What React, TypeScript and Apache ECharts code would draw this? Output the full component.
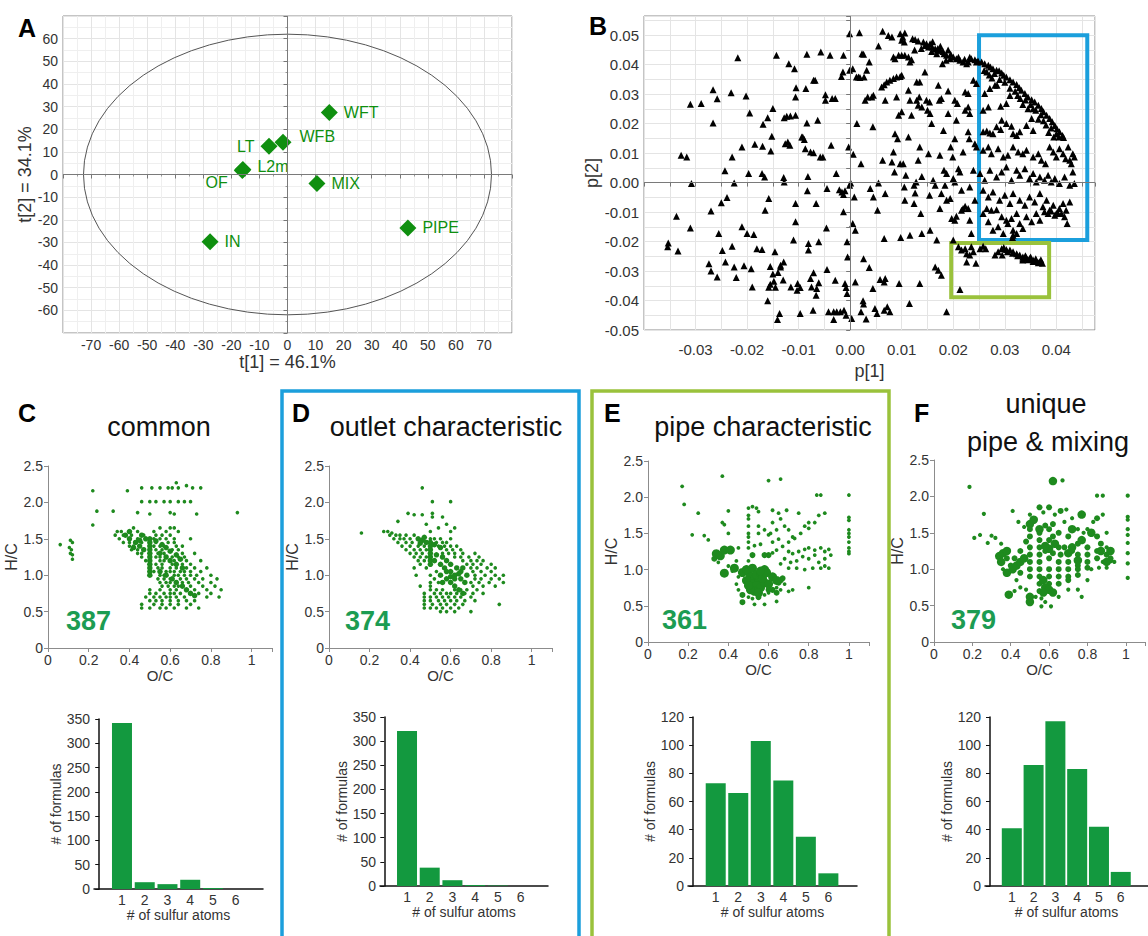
import React, { useEffect, useRef } from "react";
import * as echarts from "echarts";

const FONT = '"Liberation Sans", Arial, Helvetica, sans-serif';
const NARROW = '"Liberation Sans Narrow", "Liberation Sans", Arial, sans-serif';

const GREEN_DOT = "#1e8a1e";
const GREEN_MARK = "#0f8f0f";
const GREEN_BAR = "#13993f";
const GREEN_COUNT = "#1c9c52";
const BLUE_BOX = "#1b9fdc";
const LIME_BOX = "#9ac23c";

// ---- Panel A: PCA scores ----
const sampleNames = ["WFT", "WFB", "LT", "L2m", "OF", "MIX", "PIPE", "IN"];
const scoreT1 = [14.9, -1.6, -6.6, -15.9, -16.1, 10.5, 42.9, -27.6];
const scoreT2 = [27.4, 14.2, 12.5, 2.2, 1.8, -4.0, -23.6, -29.7];
const labelSide = ["right", "right", "left", "right", "left", "right", "right", "right"];
const ellipseT1 = 72.7;
const ellipseT2 = 62;

// ---- Panel B: PCA loadings ----
const loadings: number[][] = [
  [-0.0354, -0.0218], [-0.0353, -0.0205], [-0.0334, -0.0232], [-0.0328, 0.0093], [-0.0317, 0.0087],
  [-0.0337, -0.0114], [-0.031, 0.0266], [-0.0289, 0.0268], [-0.0308, -0.0003], [-0.031, -0.0154],
  [-0.0266, 0.0315], [-0.0258, 0.0284], [-0.0266, 0.0202], [-0.027, -0.0096], [-0.0274, -0.0275],
  [-0.027, -0.03], [-0.0258, -0.032], [-0.0255, -0.0173], [-0.0248, -0.023], [-0.0242, -0.0269],
  [-0.0243, 0.004], [-0.025, -0.0068], [-0.0239, -0.0051], [-0.0231, 0.0305], [-0.0229, 0.0087],
  [-0.0229, -0.0216], [-0.0225, -0.0286], [-0.0221, -0.0322], [-0.0218, 0.0423], [-0.0225, -0.0001],
  [-0.021, 0.0121], [-0.021, -0.015], [-0.0206, -0.0282], [-0.0202, 0.0294], [-0.02, -0.0173],
  [-0.0187, -0.0176], [-0.0197, 0.0031], [-0.0195, 0.0236], [-0.0192, -0.0292], [-0.019, -0.0354],
  [-0.0185, 0.013], [-0.0181, -0.0224], [-0.0171, -0.0227], [-0.0171, 0.0031], [-0.0166, 0.0019],
  [-0.017, 0.0123], [-0.0169, 0.0198], [-0.0165, -0.0094], [-0.0158, -0.0054], [-0.016, 0.022],
  [-0.016, -0.0401], [-0.0152, 0.0157], [-0.0154, 0.0107], [-0.015, 0.0251], [-0.0143, 0.0432],
  [-0.0146, -0.0235], [-0.0155, -0.0285], [-0.015, -0.031], [-0.0148, -0.0335], [-0.0155, -0.0345],
  [-0.0145, -0.0355], [-0.014, -0.0305], [-0.0135, -0.028], [-0.0158, -0.0355], [-0.013, -0.033],
  [-0.0141, -0.0464], [-0.0137, -0.0444], [-0.0135, -0.0286], [-0.0129, -0.0269], [-0.0129, 0.0017],
  [-0.0128, 0.0002], [-0.0128, 0.022], [-0.0123, 0.0225], [-0.0116, 0.0226], [-0.0106, 0.0228],
  [-0.0126, 0.0132], [-0.0121, 0.0138], [-0.0117, 0.0127], [-0.0119, 0.0403], [-0.0108, 0.0386],
  [-0.0115, -0.0354], [-0.0103, -0.0365], [-0.011, -0.0195], [-0.0106, 0.029], [-0.0105, 0.0322],
  [-0.0106, -0.0133], [-0.0106, -0.0071], [-0.0102, -0.0342], [-0.0097, -0.0356], [-0.0097, -0.0444],
  [-0.0094, 0.0155], [-0.0089, 0.0146], [-0.0087, 0.0115], [-0.0077, 0.0104], [-0.0092, 0.0155],
  [-0.0086, 0.0319], [-0.0084, 0.0202], [-0.0082, 0.0021], [-0.0083, -0.0028], [-0.0081, -0.0229],
  [-0.0081, -0.0207], [-0.0077, -0.0325], [-0.0075, -0.0354], [-0.0071, -0.0306], [-0.0084, 0.0435],
  [-0.0071, 0.0347], [-0.0068, 0.0347], [-0.0071, 0.0101], [-0.0063, 0.0211], [-0.0065, -0.0359],
  [-0.0061, -0.034], [-0.0066, -0.0382], [-0.0072, -0.0433], [-0.0066, -0.0071], [-0.0061, -0.0201],
  [-0.0058, 0.0087], [-0.0053, 0.0087], [-0.0057, 0.0443], [-0.0048, 0.0298], [-0.0048, 0.0279],
  [-0.0046, -0.0154], [-0.0045, -0.002], [-0.0045, -0.0295], [-0.0042, -0.0438], [-0.0032, -0.0438],
  [-0.0026, -0.0438], [-0.0039, 0.0432], [-0.0037, 0.0127], [-0.0035, 0.0285], [-0.0029, 0.0285],
  [-0.0032, -0.0464], [-0.0029, -0.0331], [-0.0027, 0.0031], [-0.0021, -0.0024], [-0.0016, -0.0032],
  [-0.0013, -0.004], [-0.001, -0.0028], [-0.0019, -0.0438], [-0.0012, -0.0433], [-0.0008, -0.045],
  [-0.0017, 0.036], [-0.0014, 0.0375], [-0.0013, -0.0099], [-0.0013, 0.0432], [-0.001, -0.0342],
  [-0.0006, -0.0376], [-0.0008, -0.0356], [-0.0006, -0.0201], [-0.0005, -0.0252], [-0.0003, 0.0121],
  [-0.0001, -0.0009], [0.0001, -0.0001], [-0.0001, 0.0381], [0.0005, 0.0386], [-0.0001, 0.0505],
  [0.0003, -0.0461], [0.0005, -0.0139], [0.0006, 0.0096], [0.0008, -0.0049], [0.001, -0.0162],
  [0.001, -0.0337], [0.0012, 0.0358], [0.0016, 0.0358], [0.0019, 0.0356], [0.0013, 0.02],
  [0.0018, 0.0508], [0.0021, 0.0064], [0.0023, 0.0437], [0.0026, 0.0435], [0.0021, -0.0438],
  [0.0025, -0.0401], [0.0026, -0.0412], [0.0026, -0.0258], [0.0029, 0.0279], [0.0034, 0.029],
  [0.0027, 0.0358], [0.0031, -0.0463], [0.0032, 0.0381], [0.0037, 0.0409], [0.0037, -0.0288],
  [0.0039, -0.002], [0.0044, 0.0189], [0.0042, 0.029], [0.0045, 0.0296], [0.0044, -0.0359],
  [0.0045, -0.0049], [0.0048, -0.0427], [0.0052, -0.0444], [0.0053, -0.0094], [0.0055, 0.0463],
  [0.0055, -0.0001], [0.0058, -0.0329], [0.0061, 0.0324], [0.0066, 0.0332], [0.0071, 0.0341],
  [0.0077, 0.0347], [0.0084, 0.0353], [0.009, 0.0358], [0.0097, 0.036], [0.01, 0.0364],
  [0.0063, 0.0076], [0.0063, 0.0513], [0.0074, 0.0499], [0.0081, 0.0494], [0.0068, 0.0279],
  [0.0068, -0.0037], [0.0066, -0.019], [0.0066, -0.0337], [0.0068, -0.0325], [0.0066, -0.0433],
  [0.0072, -0.0421], [0.0077, -0.0438], [0.0081, 0.007], [0.0084, 0.0426], [0.0087, 0.042],
  [0.0094, 0.0432], [0.01, 0.0432], [0.0084, 0.0104], [0.0086, 0.0036], [0.0087, 0.0166],
  [0.0092, 0.0149], [0.009, 0.029], [0.0094, 0.0228], [0.01, 0.024], [0.0097, 0.0505],
  [0.0102, 0.0494], [0.0106, 0.0507], [0.0097, 0.0064], [0.0103, 0.0064], [0.0095, -0.0342],
  [0.0098, -0.0186], [0.01, 0.0483], [0.0105, 0.0477], [0.0106, 0.0432], [0.0113, 0.0426],
  [0.0105, -0.0015], [0.0108, 0.0025], [0.0106, -0.006], [0.0113, 0.0313], [0.0116, 0.0279],
  [0.0113, 0.0155], [0.0116, -0.0179], [0.0115, -0.041], [0.0116, 0.0409], [0.0119, 0.0417],
  [0.0119, 0.0228], [0.0121, 0.0488], [0.0126, 0.0485], [0.0132, 0.048], [0.0124, -0.0071],
  [0.0126, -0.0035], [0.0124, -0.0009], [0.0128, 0.0002], [0.0129, 0.0341], [0.0135, 0.0341],
  [0.0129, 0.0279], [0.0134, 0.029], [0.0132, 0.0262], [0.0139, 0.0256], [0.0135, 0.0121],
  [0.0132, 0.0076], [0.0139, 0.0021], [0.0137, -0.0105], [0.0139, -0.0173], [0.0135, -0.0342],
  [0.0142, 0.0477], [0.0148, 0.0471], [0.0155, 0.0471], [0.0152, 0.046], [0.0145, 0.0375],
  [0.0148, 0.0279], [0.0154, 0.0273], [0.015, 0.0245], [0.0155, 0.0234], [0.0152, 0.0098],
  [0.0154, -0.0043], [0.0155, -0.0162], [0.0158, 0.02], [0.0159, 0.046], [0.0165, 0.0454],
  [0.0169, 0.0449], [0.0168, 0.0437], [0.0161, 0.0008], [0.0165, -0.0009], [0.0165, -0.0286],
  [0.0171, -0.0297], [0.0177, -0.0314], [0.0168, -0.0195], [0.0171, 0.033], [0.0173, 0.0279],
  [0.0177, 0.0285], [0.0174, 0.0093], [0.0174, -0.0088], [0.0175, 0.0449], [0.0182, 0.0437],
  [0.0187, 0.0432], [0.0179, 0.0403], [0.0186, 0.0415], [0.0181, 0.0177], [0.0182, 0.0042],
  [0.0187, 0.0031], [0.0184, -0.0009], [0.0177, -0.0037], [0.0187, -0.0438], [0.0187, -0.006],
  [0.0194, -0.0054], [0.019, 0.0311], [0.019, 0.0234], [0.0194, 0.042], [0.02, 0.0426],
  [0.0206, 0.042], [0.0195, 0.0121], [0.0197, -0.0122], [0.0203, -0.0128], [0.0206, -0.0114],
  [0.0199, 0.0087], [0.02, 0.0014], [0.0203, 0.0002], [0.02, -0.0195], [0.0203, 0.0279],
  [0.0208, 0.0268], [0.0206, 0.0211], [0.0203, 0.0149], [0.021, 0.0047], [0.0213, 0.0036],
  [0.0213, 0.0415], [0.0219, 0.0409], [0.0226, 0.0403], [0.0229, 0.0409], [0.0213, -0.0363],
  [0.021, -0.0218], [0.0216, -0.0229], [0.0223, -0.0224], [0.0226, -0.0241], [0.0232, -0.0246],
  [0.0239, -0.0235], [0.0235, -0.0218], [0.0244, -0.0274], [0.0226, -0.0269], [0.0216, -0.0094],
  [0.0219, -0.0088], [0.0223, -0.008], [0.0229, -0.0088], [0.0216, -0.0026], [0.0219, 0.0104],
  [0.0223, 0.0245], [0.0229, 0.0256], [0.0232, 0.0234], [0.0223, 0.0307], [0.0229, 0.0302],
  [0.0229, 0.0172], [0.0231, 0.0149], [0.0232, -0.0015], [0.0232, -0.0128], [0.0235, -0.0173],
  [0.0239, 0.0347], [0.0245, 0.0336], [0.0239, 0.0042], [0.0242, -0.006], [0.0235, 0.042],
  [0.0242, 0.0417], [0.0245, 0.0409], [0.0248, 0.0412], [0.0242, 0.0132], [0.0245, 0.0121],
  [0.0252, -0.0224], [0.0258, -0.0216], [0.0263, -0.0224],
  [0.0145, 0.0465], [0.0158, 0.0445], [0.017, 0.0455], [0.018, 0.0445], [0.0195, 0.0435],
  [0.021, 0.0425], [0.0222, 0.0418], [0.0232, 0.0425], [0.0125, 0.045], [0.0138, 0.0455],
  [0.016, 0.0478], [0.0175, 0.0462], [0.019, 0.045],
  [0.0255, 0.0409], [0.0261, 0.0403], [0.0268, 0.0398], [0.0272, 0.0392], [0.0277, 0.0386],
  [0.0284, 0.0381], [0.0289, 0.0379], [0.0294, 0.0372], [0.0298, 0.0364], [0.0303, 0.0358],
  [0.031, 0.0349], [0.0316, 0.0341], [0.0323, 0.0333], [0.0328, 0.0322], [0.0332, 0.0313],
  [0.0339, 0.0302], [0.0345, 0.029], [0.0352, 0.0281], [0.0358, 0.0273], [0.0365, 0.0262],
  [0.0371, 0.0251], [0.0375, 0.024], [0.0381, 0.0228], [0.0387, 0.0217], [0.0392, 0.0206],
  [0.0397, 0.0194], [0.0401, 0.0183], [0.0406, 0.0172], [0.0412, 0.016], [0.0414, 0.0153],
  [0.026, 0.038], [0.027, 0.0365], [0.028, 0.037], [0.029, 0.035], [0.03, 0.034],
  [0.031, 0.032], [0.032, 0.031], [0.0325, 0.0295], [0.033, 0.0285], [0.034, 0.028],
  [0.035, 0.0265], [0.0355, 0.025], [0.036, 0.0245], [0.037, 0.023], [0.0375, 0.021],
  [0.038, 0.0195], [0.039, 0.0185], [0.04, 0.0165], [0.0405, 0.0155], [0.0395, 0.0155],
  [0.0385, 0.017], [0.0365, 0.0215], [0.0345, 0.025], [0.0335, 0.0265], [0.031, 0.0295],
  [0.0285, 0.033], [0.0275, 0.0355], [0.0265, 0.0375],
  [0.0261, 0.0302], [0.0271, 0.0319], [0.0281, 0.033], [0.0258, 0.0245], [0.0268, 0.0256],
  [0.0292, 0.0259], [0.0303, 0.0268], [0.0294, 0.0211], [0.0303, 0.02], [0.0313, 0.0191],
  [0.0258, 0.0172], [0.0265, 0.0175], [0.0271, 0.0168], [0.0277, 0.0166], [0.0284, 0.0189],
  [0.0292, 0.018], [0.0316, 0.0166], [0.0323, 0.016], [0.0329, 0.0172], [0.0342, 0.0194],
  [0.0352, 0.0217], [0.0355, 0.0177], [0.0258, 0.011], [0.0268, 0.0121], [0.0274, 0.0098],
  [0.0287, 0.0115], [0.0297, 0.0087], [0.0306, 0.0093], [0.0316, 0.0121], [0.0326, 0.0104],
  [0.0335, 0.0098], [0.0342, 0.011], [0.0355, 0.0087], [0.0365, 0.0098], [0.0371, 0.0076],
  [0.0379, 0.0064], [0.0387, 0.0121], [0.0394, 0.0104], [0.04, 0.0087], [0.0406, 0.0115],
  [0.0413, 0.0098], [0.0418, 0.0081], [0.0423, 0.0121], [0.0426, 0.0076], [0.0432, 0.0098],
  [0.0435, 0.0087], [0.0429, 0.0064], [0.0432, 0.0036], [0.0252, 0.0031], [0.0261, 0.0008],
  [0.0271, 0.0042], [0.0284, 0.0019], [0.0294, 0.0036], [0.0303, 0.0053], [0.0313, 0.0008],
  [0.0323, 0.0042], [0.0329, 0.0025], [0.0339, 0.0047], [0.0348, 0.0014], [0.0355, 0.0031],
  [0.0361, 0.0002], [0.0368, 0.0019], [0.0377, 0.0008], [0.0384, 0.0025], [0.039, 0.0002],
  [0.0397, 0.0014], [0.0406, -0.0003], [0.0416, 0.0019], [0.0426, -0.0009], [0.0435, -0.0003],
  [0.0258, -0.0026], [0.0268, -0.0049], [0.0277, -0.0032], [0.029, -0.006], [0.03, -0.0043],
  [0.031, -0.0071], [0.0316, -0.0037], [0.0329, -0.006], [0.0339, -0.0077], [0.0348, -0.0049],
  [0.0358, -0.0066], [0.0368, -0.0037], [0.0374, -0.0082], [0.0381, -0.006], [0.0387, -0.0094],
  [0.0394, -0.0077], [0.04, -0.0105], [0.0406, -0.0088], [0.0413, -0.0071], [0.0419, -0.0094],
  [0.0426, -0.0066], [0.0377, -0.0099], [0.0384, -0.0105], [0.039, -0.0096], [0.0397, -0.0111],
  [0.0403, -0.0103], [0.041, -0.0105], [0.0416, -0.0116], [0.0421, -0.0139], [0.0258, -0.0105],
  [0.0265, -0.0088], [0.0274, -0.0094], [0.0284, -0.0092], [0.0294, -0.0116], [0.0303, -0.0128],
  [0.0313, -0.0122], [0.0323, -0.0105], [0.0329, -0.0139], [0.0335, -0.0156], [0.0342, -0.0116],
  [0.0352, -0.0133], [0.0361, -0.0105], [0.0368, -0.0128], [0.0268, -0.0133], [0.0277, -0.0162],
  [0.0287, -0.015], [0.0297, -0.0173], [0.0306, -0.0139], [0.0316, -0.0162], [0.0323, -0.0173],
  [0.0316, -0.0179], [0.0315, -0.0186],
  [0.0294, -0.0224], [0.0298, -0.022], [0.0303, -0.0227], [0.031, -0.0229], [0.0316, -0.0235],
  [0.0323, -0.0241], [0.0329, -0.0246], [0.0335, -0.0252], [0.0342, -0.0255], [0.0348, -0.0258],
  [0.0355, -0.0263], [0.0361, -0.0265], [0.0368, -0.0269], [0.0373, -0.0274], [0.0305, -0.0235],
  [0.0315, -0.024], [0.0325, -0.0248], [0.0335, -0.0258], [0.0345, -0.0262], [0.0355, -0.0268],
  [0.0365, -0.0272], [0.037, -0.0262], [0.036, -0.0258], [0.035, -0.0252], [0.034, -0.0248],
  [0.0281, -0.0246], [0.0287, -0.0235], [0.0295, -0.0246], [0.0335, -0.0263],
];
const outletBox = { x0: 0.025, x1: 0.046, y0: -0.0195, y1: 0.05 };
const pipeBox = { x0: 0.0196, x1: 0.0386, y0: -0.0389, y1: -0.0205 };

// ---- Panels C–F: van Krevelen (O/C, H/C) ----
// rows: [H/C, [O/C, ...]]
const commonSmallRows: [number, number[]][] = [
  [2.27, [0.63]], [2.23, [0.68]],
  [2.2, [0.46, 0.51, 0.55, 0.59, 0.61, 0.64, 0.71, 0.75]],
  [2.16, [0.39, 0.22]],
  [2.01, [0.46, 0.5, 0.53, 0.57, 0.6, 0.64, 0.67, 0.7]],
  [1.88, [0.24, 0.32]], [1.86, [0.44, 0.6, 0.93]], [1.84, [0.5, 0.62, 0.73]], [1.69, [0.22]],
  [1.65, [0.42, 0.55, 0.6, 0.62]],
  [1.6, [0.34, 0.36, 0.44, 0.52, 0.58, 0.64]],
  [1.55, [0.33, 0.37, 0.41, 0.47, 0.53, 0.56, 0.6]],
  [1.5, [0.35, 0.44, 0.52, 0.55, 0.58, 0.62, 0.7]],
  [1.45, [0.37, 0.4, 0.46, 0.53, 0.59, 0.62]],
  [1.4, [0.4, 0.42, 0.52, 0.55, 0.57, 0.63, 0.66]],
  [1.35, [0.41, 0.44, 0.53, 0.56, 0.61, 0.64]],
  [1.3, [0.44, 0.46, 0.54, 0.57, 0.66, 0.72]],
  [1.25, [0.46, 0.53, 0.55, 0.61, 0.64, 0.67]],
  [1.2, [0.48, 0.55, 0.57, 0.62, 0.68, 0.75]],
  [1.15, [0.53, 0.56, 0.61, 0.66, 0.7]],
  [1.1, [0.54, 0.56, 0.6, 0.63, 0.68, 0.72, 0.78]],
  [1.05, [0.52, 0.58, 0.6, 0.62, 0.65, 0.67, 0.7, 0.75]],
  [1.0, [0.55, 0.57, 0.62, 0.64, 0.67, 0.7, 0.73, 0.8]],
  [0.95, [0.54, 0.57, 0.6, 0.65, 0.68, 0.72, 0.76, 0.83]],
  [0.9, [0.55, 0.58, 0.6, 0.66, 0.69, 0.74, 0.8]],
  [0.85, [0.56, 0.59, 0.62, 0.64, 0.7, 0.76, 0.82]],
  [0.8, [0.5, 0.55, 0.6, 0.63, 0.72, 0.78, 0.85]],
  [0.75, [0.5, 0.53, 0.57, 0.6, 0.62, 0.65, 0.74, 0.8]],
  [0.7, [0.48, 0.52, 0.55, 0.58, 0.6, 0.63, 0.67, 0.78, 0.84]],
  [0.65, [0.5, 0.53, 0.56, 0.6, 0.64, 0.68, 0.72]],
  [0.6, [0.46, 0.52, 0.56, 0.6, 0.64, 0.7]],
  [0.55, [0.46, 0.5, 0.55, 0.58, 0.62, 0.68, 0.74]],
  [1.48, [0.11]], [1.45, [0.12]], [1.42, [0.06]], [1.38, [0.105]], [1.35, [0.115]],
  [1.3, [0.11]], [1.28, [0.12]], [1.22, [0.12]],
];
const commonLarge: number[][] = [
  [0.5, 1.0], [0.5, 1.05], [0.5, 1.1], [0.5, 1.15], [0.5, 1.2], [0.5, 1.25], [0.5, 1.3], [0.5, 1.35],
  [0.5, 1.4], [0.5, 1.45], [0.5, 1.5], [0.53, 1.47], [0.56, 1.42], [0.58, 1.38], [0.6, 1.33],
  [0.63, 1.28], [0.65, 1.22], [0.55, 1.3], [0.58, 1.25], [0.6, 1.2], [0.63, 1.15], [0.66, 1.1],
  [0.55, 1.05], [0.58, 1.0], [0.61, 0.95], [0.63, 0.9], [0.66, 0.85], [0.68, 0.8], [0.7, 0.75],
  [0.72, 0.72], [0.45, 1.4], [0.43, 1.45], [0.4, 1.5], [0.38, 1.55], [0.47, 1.35], [0.45, 1.48],
  [0.42, 1.38], [0.48, 1.5], [0.4, 1.6], [0.46, 1.55],
];

const outletSmallRows: [number, number[]][] = [
  [2.2, [0.46]], [2.01, [0.51, 0.6]], [1.85, [0.39, 0.51]], [1.83, [0.42, 0.46]],
  [1.8, [0.51, 0.56]], [1.74, [0.34]], [1.7, [0.48, 0.58]], [1.65, [0.54, 0.62]],
  [1.6, [0.27, 0.29, 0.5, 0.6]], [1.58, [0.16, 0.31]],
  [1.55, [0.3, 0.33, 0.35, 0.38, 0.42]],
  [1.5, [0.32, 0.35, 0.37, 0.4, 0.5, 0.52, 0.55, 0.6]],
  [1.45, [0.34, 0.38, 0.41, 0.53, 0.56, 0.58]],
  [1.4, [0.36, 0.4, 0.44, 0.47, 0.54, 0.57, 0.6, 0.63]],
  [1.35, [0.38, 0.42, 0.45, 0.48, 0.58, 0.61, 0.65]],
  [1.3, [0.4, 0.43, 0.46, 0.56, 0.59, 0.62, 0.66, 0.72]],
  [1.25, [0.42, 0.45, 0.48, 0.62, 0.65, 0.69, 0.74]],
  [1.2, [0.44, 0.47, 0.66, 0.7, 0.73, 0.76]],
  [1.15, [0.45, 0.68, 0.71, 0.75, 0.8]],
  [1.1, [0.42, 0.48, 0.7, 0.73, 0.78, 0.82]],
  [1.05, [0.53, 0.71, 0.75, 0.8]],
  [1.0, [0.43, 0.5, 0.72, 0.77, 0.82, 0.86]],
  [0.95, [0.52, 0.72, 0.75, 0.8, 0.84]],
  [0.9, [0.5, 0.54, 0.7, 0.74, 0.79, 0.86]],
  [0.85, [0.45, 0.5, 0.71, 0.76, 0.82]],
  [0.8, [0.5, 0.53, 0.56, 0.62, 0.65, 0.68, 0.73]],
  [0.75, [0.47, 0.52, 0.55, 0.58, 0.6, 0.63, 0.67, 0.71, 0.76]],
  [0.7, [0.47, 0.5, 0.53, 0.56, 0.59, 0.62, 0.65, 0.7]],
  [0.65, [0.47, 0.5, 0.54, 0.57, 0.6, 0.63, 0.67, 0.72]],
  [0.6, [0.47, 0.51, 0.55, 0.58, 0.62, 0.66, 0.84]],
  [0.55, [0.47, 0.5, 0.53, 0.56, 0.6, 0.64]],
  [0.5, [0.55, 0.58, 0.62, 0.7]],
];
const outletLarge: number[][] = [
  [0.5, 1.15], [0.5, 1.2], [0.5, 1.25], [0.5, 1.3], [0.5, 1.35], [0.5, 1.4], [0.5, 1.45],
  [0.44, 1.5], [0.46, 1.48], [0.48, 1.45], [0.52, 1.42], [0.55, 1.38], [0.45, 1.44], [0.47, 1.52],
  [0.52, 1.2], [0.55, 1.15], [0.57, 1.1], [0.6, 1.05], [0.62, 1.0], [0.53, 1.28], [0.56, 1.25],
  [0.58, 1.2], [0.6, 1.15], [0.63, 1.1], [0.65, 1.05], [0.55, 1.0], [0.58, 0.95], [0.6, 0.9],
  [0.62, 0.85], [0.64, 0.8], [0.66, 0.75], [0.58, 1.05], [0.62, 0.95], [0.65, 0.95], [0.67, 0.9],
  [0.64, 1.02], [0.68, 1.0], [0.6, 0.98], [0.56, 0.9], [0.66, 1.1],
];

const pipeSmall: number[][] = [
  [0.17, 2.15], [0.18, 1.9], [0.25, 1.78], [0.22, 1.48], [0.28, 1.47], [0.3, 1.41], [0.37, 2.29],
  [0.6, 2.23], [0.66, 2.25], [0.84, 2.03], [0.86, 2.03], [1.0, 2.03], [1, 1.72], [1, 1.68],
  [1, 1.55], [1, 1.5], [1, 1.45], [1, 1.38], [1, 1.3], [1, 1.25], [1, 1.22], [0.37, 1.65],
  [0.38, 1.62], [0.4, 1.81], [0.4, 1.5], [0.45, 1.3], [0.44, 1.12], [0.5, 1.85], [0.52, 1.87],
  [0.54, 1.85], [0.5, 1.75], [0.5, 1.7], [0.5, 1.6], [0.5, 1.5], [0.5, 1.45], [0.5, 1.38],
  [0.5, 1.3], [0.55, 1.8], [0.55, 1.6], [0.55, 1.5], [0.56, 1.35], [0.58, 1.55], [0.6, 1.48],
  [0.62, 1.82], [0.65, 1.78], [0.69, 1.82], [0.62, 1.65], [0.66, 1.7], [0.68, 1.6], [0.64, 1.55],
  [0.61, 1.5], [0.65, 1.42], [0.62, 1.38], [0.7, 1.55], [0.72, 1.45], [0.75, 1.78], [0.78, 1.6],
  [0.8, 1.65], [0.85, 1.75], [0.88, 1.78], [0.62, 1.23], [0.64, 1.27], [0.67, 1.32], [0.7, 1.38],
  [0.73, 1.43], [0.76, 1.5], [0.8, 1.57], [0.83, 1.65], [0.7, 1.25], [0.72, 1.22], [0.75, 1.25],
  [0.78, 1.28], [0.8, 1.3], [0.83, 1.27], [0.86, 1.3], [0.88, 1.25], [0.9, 1.28], [0.91, 1.2],
  [0.88, 1.15], [0.85, 1.1], [0.83, 1.2], [0.8, 1.15], [0.77, 1.18], [0.74, 1.12], [0.71, 1.1],
  [0.68, 1.15], [0.66, 1.08], [0.7, 1.02], [0.74, 1.02], [0.78, 1.0], [0.82, 1.02], [0.86, 1.02],
  [0.9, 1.02], [0.88, 1.05], [0.8, 0.75], [0.72, 0.72], [0.68, 0.8], [0.64, 0.75], [0.66, 0.72],
  [0.7, 0.7], [0.53, 0.52], [0.58, 0.52], [0.64, 0.56], [0.42, 0.98], [0.45, 0.9], [0.44, 0.8],
  [0.45, 0.72], [0.5, 0.62], [0.52, 0.6], [0.58, 0.65], [0.6, 0.68], [0.35, 1.1], [0.4, 1.05],
  [0.48, 1.02], [0.5, 1.12], [0.53, 1.33],
];
const pipeMedium: number[][] = [
  [0.47, 0.55], [0.55, 0.62], [0.47, 0.65], [0.52, 1.2], [0.6, 1.2], [0.58, 1.2], [0.33, 1.15],
  [0.62, 0.72], [0.64, 0.68], [0.66, 0.85], [0.67, 0.88], [0.65, 0.82], [0.6, 0.72],
];
const pipeLarge: number[][] = [
  [0.34, 1.22], [0.36, 1.19], [0.38, 1.27], [0.41, 1.27], [0.38, 0.95], [0.43, 1.02], [0.47, 0.96],
  [0.49, 1.0], [0.5, 0.97], [0.52, 1.02], [0.51, 0.9], [0.53, 0.87], [0.55, 0.85], [0.54, 0.93],
  [0.56, 0.95], [0.52, 0.8], [0.54, 0.78], [0.56, 0.75], [0.53, 0.7], [0.51, 0.72], [0.55, 0.68],
  [0.58, 0.82], [0.6, 0.8], [0.57, 0.88], [0.58, 1.0], [0.59, 0.96], [0.62, 0.9], [0.64, 0.85],
  [0.56, 0.98], [0.49, 0.85], [0.5, 0.78],
];

const mixingSmall: number[][] = [
  [0.185, 2.13], [0.26, 1.76], [0.21, 1.43], [0.24, 1.47], [0.28, 1.36], [0.3, 1.46], [0.32, 1.43],
  [0.67, 2.22], [0.85, 2.01], [0.88, 2.01], [1.01, 2.01], [1.01, 1.72], [1.01, 1.68], [1.01, 1.55],
  [1.01, 1.47], [1.01, 1.36], [1.01, 1.22], [1.01, 1.08], [1.01, 0.88], [0.41, 1.8], [0.44, 1.65],
  [0.47, 1.58], [0.5, 1.75], [0.57, 1.78], [0.63, 1.75], [0.69, 1.82], [0.68, 1.65], [0.72, 1.7],
  [0.75, 1.55], [0.78, 1.5], [0.8, 1.55], [0.83, 1.65], [0.88, 1.75], [0.9, 1.5], [0.9, 1.3],
  [0.94, 1.1], [0.88, 1.1], [0.43, 0.85], [0.45, 0.75], [0.42, 0.7], [0.48, 0.72], [0.53, 0.62],
  [0.56, 0.6], [0.58, 0.55], [0.56, 0.49], [0.61, 0.49], [0.77, 0.62], [0.75, 0.72], [0.8, 0.85],
  [0.82, 1.0], [0.86, 1.02], [0.9, 1.02], [0.7, 0.72], [0.65, 0.62], [0.35, 1.35], [0.36, 1.0],
];
const mixingMedium: number[][] = [
  [0.55, 1.85], [0.6, 1.85], [0.66, 1.8], [0.62, 1.62], [0.85, 1.7],
  [0.55, 1.5], [0.55, 1.4], [0.55, 1.3], [0.55, 1.2], [0.55, 1.1], [0.55, 1.0], [0.55, 0.9],
  [0.55, 0.8], [0.55, 0.7], [0.5, 1.55], [0.5, 1.45], [0.5, 1.3], [0.5, 1.2], [0.5, 1.1],
  [0.5, 1.0], [0.5, 0.9], [0.6, 1.55], [0.6, 1.4], [0.6, 1.15], [0.6, 1.0], [0.6, 0.9],
  [0.6, 0.8], [0.6, 0.7], [0.65, 1.5], [0.65, 1.3], [0.65, 1.1], [0.65, 1.0], [0.65, 0.9],
  [0.65, 0.8], [0.7, 1.45], [0.7, 1.1], [0.7, 1.0], [0.7, 0.9], [0.7, 0.85], [0.75, 1.35],
  [0.75, 1.2], [0.75, 1.05], [0.75, 1.0], [0.75, 0.92], [0.8, 1.3], [0.8, 1.2], [0.8, 1.1],
  [0.8, 1.02], [0.85, 1.25], [0.85, 1.15], [0.87, 1.35], [0.9, 1.2], [0.92, 1.12], [0.45, 1.25],
  [0.45, 0.95], [0.42, 1.15], [0.48, 1.38], [0.58, 1.6], [0.62, 1.45], [0.68, 1.3], [0.72, 1.25],
  [0.58, 1.25], [0.62, 1.22], [0.66, 1.2], [0.85, 1.45], [0.92, 1.15], [0.38, 1.15], [0.4, 1.05],
];
const mixingLarge: number[][] = [
  [0.62, 2.21], [0.34, 1.18], [0.36, 1.22], [0.38, 1.25], [0.35, 1.1], [0.38, 0.95], [0.41, 1.0],
  [0.43, 1.05], [0.45, 1.1], [0.47, 1.15], [0.5, 1.62], [0.52, 1.68], [0.55, 1.55], [0.6, 1.28],
  [0.58, 1.32], [0.63, 1.35], [0.57, 0.85], [0.58, 0.75], [0.6, 0.72], [0.57, 0.68], [0.62, 0.68],
  [0.7, 1.22], [0.72, 1.3], [0.75, 1.12], [0.77, 1.4], [0.72, 1.55], [0.87, 1.25], [0.9, 1.1],
  [0.92, 1.25], [0.5, 0.55], [0.5, 0.62], [0.82, 1.5], [0.39, 0.65], [0.77, 1.75],
];

// ---- Sulfur atom histograms ----
const sulfurAtoms = [1, 2, 3, 4, 5, 6];
const commonCounts = [342, 14, 10, 19, 2, 0];
const outletCounts = [321, 38, 12, 2, 1, 0];
const pipeCounts = [73, 66, 103, 75, 35, 9];
const mixingCounts = [41, 86, 117, 83, 42, 10];

const panelTotals = ["387", "374", "361", "379"];
const panelTitles = ["common", "outlet characteristic", "pipe characteristic", "unique", "pipe & mixing"];

const fromRows = (rows: [number, number[]][]) =>
  rows.flatMap(([hc, ocs]) => ocs.map((oc) => [oc, hc]));

const tickFont = { fontFamily: FONT, fontSize: 13, color: "#333" };

function App() {
  const ref = useRef<HTMLDivElement>(null);

  useEffect(() => {
    document.body.style.margin = "0";
    if (!ref.current) return;
    const chart = echarts.init(ref.current, undefined, { renderer: "svg" });

    const grid = [
      { left: 63, top: 16, width: 449, height: 317, show: true, borderColor: "#8a8a8a", borderWidth: 1 },
      { left: 644, top: 16, width: 451, height: 314, show: true, borderColor: "#8a8a8a", borderWidth: 1 },
      { left: 48, top: 466, width: 224, height: 182 },
      { left: 329, top: 466, width: 223, height: 182 },
      { left: 648, top: 461, width: 221, height: 181 },
      { left: 934, top: 460, width: 224, height: 182 },
      { left: 94, top: 719, width: 169, height: 170 },
      { left: 380, top: 717, width: 168, height: 169 },
      { left: 688, top: 717, width: 169, height: 169 },
      { left: 985, top: 717, width: 169, height: 169 },
    ];

    const gridLine = { show: true, lineStyle: { color: "#e4e4e4", width: 1 } };

    const xAxis: any[] = [
      {
        gridIndex: 0, type: "value", min: -80, max: 80, interval: 10,
        axisLine: { show: false }, axisTick: { length: 4, lineStyle: { color: "#777" } },
        minorTick: { show: true, splitNumber: 2, length: 2, lineStyle: { color: "#999" } },
        minorSplitLine: { show: true, lineStyle: { color: "#efefef" } },
        splitLine: gridLine,
        axisLabel: {
          fontFamily: NARROW, fontSize: 14, color: "#333", margin: 5,
          formatter: (v: number) => (Math.abs(v) > 70 ? "" : String(v)),
        },
        name: "t[1] = 46.1%", nameLocation: "middle", nameGap: 19,
        nameTextStyle: { fontFamily: NARROW, fontSize: 18, color: "#333" },
      },
      {
        gridIndex: 1, type: "value", min: -0.04, max: 0.0475, interval: 0.005,
        axisLine: { show: false }, axisTick: { length: 4, lineStyle: { color: "#777" } },
        splitLine: gridLine,
        axisLabel: {
          fontFamily: NARROW, fontSize: 15, color: "#333", margin: 12,
          formatter: (v: number) => {
            const h = v * 100;
            if (Math.abs(h - Math.round(h)) > 1e-6 || v < -0.035 || v > 0.045) return "";
            return (Math.round(h) / 100).toFixed(2);
          },
        },
        name: "p[1]", nameLocation: "middle", nameGap: 32,
        nameTextStyle: { fontFamily: NARROW, fontSize: 18, color: "#333" },
      },
    ];

    const yAxis: any[] = [
      {
        gridIndex: 0, type: "value", min: -70, max: 70, interval: 10,
        axisLine: { show: false }, axisTick: { length: 4, lineStyle: { color: "#777" } },
        minorTick: { show: true, splitNumber: 2, length: 2, lineStyle: { color: "#999" } },
        minorSplitLine: { show: true, lineStyle: { color: "#efefef" } },
        splitLine: gridLine,
        axisLabel: {
          fontFamily: NARROW, fontSize: 14, color: "#333", margin: 5,
          formatter: (v: number) => (Math.abs(v) > 60 ? "" : String(v)),
        },
        name: "t[2] = 34.1%", nameLocation: "middle", nameGap: 20,
        nameTextStyle: { fontFamily: NARROW, fontSize: 18, color: "#333" },
      },
      {
        gridIndex: 1, type: "value", min: -0.05, max: 0.0565, interval: 0.005,
        axisLine: { show: false }, axisTick: { length: 4, lineStyle: { color: "#777" } },
        splitLine: gridLine,
        axisLabel: {
          fontFamily: NARROW, fontSize: 15, color: "#333", margin: 5,
          formatter: (v: number) => {
            const h = v * 100;
            if (Math.abs(h - Math.round(h)) > 1e-6 || v > 0.051) return "";
            return (Math.round(h) / 100).toFixed(2);
          },
        },
        name: "p[2]", nameLocation: "middle", nameGap: 40,
        nameTextStyle: { fontFamily: NARROW, fontSize: 18, color: "#333" },
      },
    ];

    // van Krevelen axes
    for (let g = 2; g <= 5; g++) {
      xAxis.push({
        gridIndex: g, type: "value", min: 0, max: 1.1, interval: 0.2,
        axisLine: { show: true, onZero: false, lineStyle: { color: "#8c8c8c" } },
        axisTick: { show: true, length: 4, lineStyle: { color: "#8c8c8c" } },
        splitLine: { show: false },
        axisLabel: {
          ...tickFont, fontSize: 14, margin: 5,
          formatter: (v: number) =>
            v > 1.05 ? "" : v === 0 ? "0" : Math.abs(v - 1) < 1e-9 ? "1" : v.toFixed(1),
        },
        name: "O/C", nameLocation: "middle", nameGap: 16,
        nameTextStyle: { fontFamily: FONT, fontSize: 15, color: "#333" },
      });
      yAxis.push({
        gridIndex: g, type: "value", min: 0, max: 2.5, interval: 0.5,
        axisLine: { show: true, onZero: false, lineStyle: { color: "#8c8c8c" } },
        axisTick: { show: true, length: 4, lineStyle: { color: "#8c8c8c" } },
        splitLine: { show: false },
        axisLabel: {
          ...tickFont, fontSize: 14, margin: 5,
          formatter: (v: number) => (v === 0 ? "0" : v.toFixed(1)),
        },
        name: "H/C", nameLocation: "middle", nameGap: 25,
        nameTextStyle: { fontFamily: FONT, fontSize: 16, color: "#333" },
      });
    }

    // histogram axes
    const barX = [
      [-0.23, 7.2], [-0.19, 7.21], [-0.23, 7.27], [-0.23, 7.25],
    ];
    const barYMax = [350, 350, 120, 120];
    const barYStep = [50, 50, 20, 20];
    for (let i = 0; i < 4; i++) {
      xAxis.push({
        gridIndex: 6 + i, type: "value", min: barX[i][0], max: barX[i][1],
        axisLine: { show: true, onZero: false, lineStyle: { color: "#111", width: 1.5 } },
        axisTick: { show: false },
        splitLine: { show: false },
        axisLabel: { ...tickFont, fontSize: 14, margin: 4, customValues: sulfurAtoms },
        name: "# of sulfur atoms", nameLocation: "middle", nameGap: 19,
        nameTextStyle: { fontFamily: FONT, fontSize: 14, color: "#333" },
      });
      yAxis.push({
        gridIndex: 6 + i, type: "value", min: 0, max: barYMax[i], interval: barYStep[i],
        axisLine: { show: true, lineStyle: { color: "#111", width: 1.5 } },
        axisTick: { show: true, length: 4, lineStyle: { color: "#111" } },
        splitLine: { show: false },
        axisLabel: { ...tickFont, fontSize: 14, margin: 4 },
        name: "# of formulas", nameLocation: "middle", nameGap: 29,
        nameTextStyle: { fontFamily: FONT, fontSize: 14, color: "#333" },
      });
    }

    const scoreData = sampleNames.map((name, i) => ({
      name,
      value: [scoreT1[i], scoreT2[i]],
      label: {
        position: labelSide[i],
        offset: name === "OF" ? [0, 12] : name === "WFB" ? [2, -6] : name === "L2m" ? [0, -3] : [0, 0],
      },
    }));

    const zeroLines = {
      silent: true,
      symbol: ["none", "none"],
      label: { show: false },
      lineStyle: { color: "#7a7a7a", width: 1, type: "solid" },
      data: [{ xAxis: 0 }, { yAxis: 0 }],
    };

    const series: any[] = [
      {
        type: "custom", xAxisIndex: 0, yAxisIndex: 0, silent: true, z: 1,
        data: [[0, 0, ellipseT1, ellipseT2]],
        encode: { x: 0, y: 1 },
        renderItem: (params: any, api: any) => {
          const c = api.coord([api.value(0), api.value(1)]);
          const s = api.size([api.value(2), api.value(3)]);
          const rx = s[0];
          const ry = s[1];
          const d = `M ${c[0] - rx} ${c[1]} A ${rx} ${ry} 0 1 0 ${c[0] + rx} ${c[1]} A ${rx} ${ry} 0 1 0 ${c[0] - rx} ${c[1]} Z`;
          return {
            type: "path",
            shape: { pathData: d },
            style: { fill: "none", stroke: "#555", lineWidth: 1 },
          };
        },
      },
      {
        type: "scatter", xAxisIndex: 0, yAxisIndex: 0, z: 3,
        symbol: "diamond", symbolSize: 17,
        itemStyle: { color: GREEN_MARK, opacity: 1 },
        label: {
          show: true, formatter: "{b}", distance: 6,
          fontFamily: FONT, fontSize: 16, color: GREEN_MARK,
        },
        data: scoreData,
        markLine: zeroLines,
      },
      {
        type: "scatter", xAxisIndex: 1, yAxisIndex: 1, z: 3,
        symbol: "triangle", symbolSize: 7,
        itemStyle: { color: "#000", opacity: 1 },
        data: loadings,
        markLine: zeroLines,
        markArea: {
          silent: true,
          data: [
            [
              { xAxis: outletBox.x0, yAxis: outletBox.y0, itemStyle: { color: "rgba(0,0,0,0)", borderColor: BLUE_BOX, borderWidth: 4 } },
              { xAxis: outletBox.x1, yAxis: outletBox.y1 },
            ],
            [
              { xAxis: pipeBox.x0, yAxis: pipeBox.y0, itemStyle: { color: "rgba(0,0,0,0)", borderColor: LIME_BOX, borderWidth: 4 } },
              { xAxis: pipeBox.x1, yAxis: pipeBox.y1 },
            ],
          ],
        },
      },
    ];

    const vkSets: [number, number[][], number][] = [
      [2, fromRows(commonSmallRows), 3.6],
      [2, commonLarge, 5.5],
      [3, fromRows(outletSmallRows), 3.6],
      [3, outletLarge, 5.5],
      [4, pipeSmall, 3.8],
      [4, pipeMedium, 6],
      [4, pipeLarge, 9],
      [5, mixingSmall, 4.2],
      [5, mixingMedium, 6],
      [5, mixingLarge, 8.5],
    ];
    vkSets.forEach(([g, data, size]) => {
      series.push({
        type: "scatter", xAxisIndex: g, yAxisIndex: g,
        symbol: "circle", symbolSize: size,
        itemStyle: { color: GREEN_DOT, opacity: 1 },
        data,
      });
    });

    [commonCounts, outletCounts, pipeCounts, mixingCounts].forEach((counts, i) => {
      series.push({
        type: "bar", xAxisIndex: 6 + i, yAxisIndex: 6 + i,
        barWidth: 20,
        itemStyle: { color: GREEN_BAR },
        data: sulfurAtoms.map((s, k) => [s, counts[k]]),
      });
    });

    const letter = (t: string, x: number, y: number) => ({
      type: "text", x, y,
      style: { text: t, fontFamily: FONT, fontWeight: "bold", fontSize: 25, fill: "#000", textAlign: "left", textVerticalAlign: "top" },
    });
    const title = (t: string, x: number, y: number) => ({
      type: "text", x, y,
      style: { text: t, fontFamily: FONT, fontSize: 27, fill: "#111", textAlign: "center", textVerticalAlign: "middle" },
    });
    const total = (t: string, x: number, y: number) => ({
      type: "text", x, y,
      style: { text: t, fontFamily: FONT, fontWeight: "bold", fontSize: 27, fill: GREEN_COUNT, textAlign: "left", textVerticalAlign: "middle" },
    });

    const graphic = [
      { type: "rect", shape: { x: 282, y: 391, width: 297, height: 570 }, style: { fill: "none", stroke: BLUE_BOX, lineWidth: 3.5 }, silent: true },
      { type: "rect", shape: { x: 592, y: 391, width: 297, height: 570 }, style: { fill: "none", stroke: LIME_BOX, lineWidth: 3.5 }, silent: true },
      letter("A", 18, 15),
      letter("B", 589, 13),
      letter("C", 18, 400),
      letter("D", 292, 400),
      letter("E", 604, 400),
      letter("F", 914, 400),
      title(panelTitles[0], 159, 427),
      title(panelTitles[1], 446, 427),
      title(panelTitles[2], 763, 427),
      title(panelTitles[3], 1046, 404),
      title(panelTitles[4], 1048, 442),
      total(panelTotals[0], 66, 621),
      total(panelTotals[1], 345, 621),
      total(panelTotals[2], 662, 620),
      total(panelTotals[3], 951, 620),
    ];

    chart.setOption({
      animation: false,
      backgroundColor: "#fff",
      textStyle: { fontFamily: FONT },
      grid, xAxis, yAxis, series, graphic,
    });

    return () => chart.dispose();
  }, []);

  return <div ref={ref} style={{ width: 1148, height: 936 }} />;
}

export default App;
